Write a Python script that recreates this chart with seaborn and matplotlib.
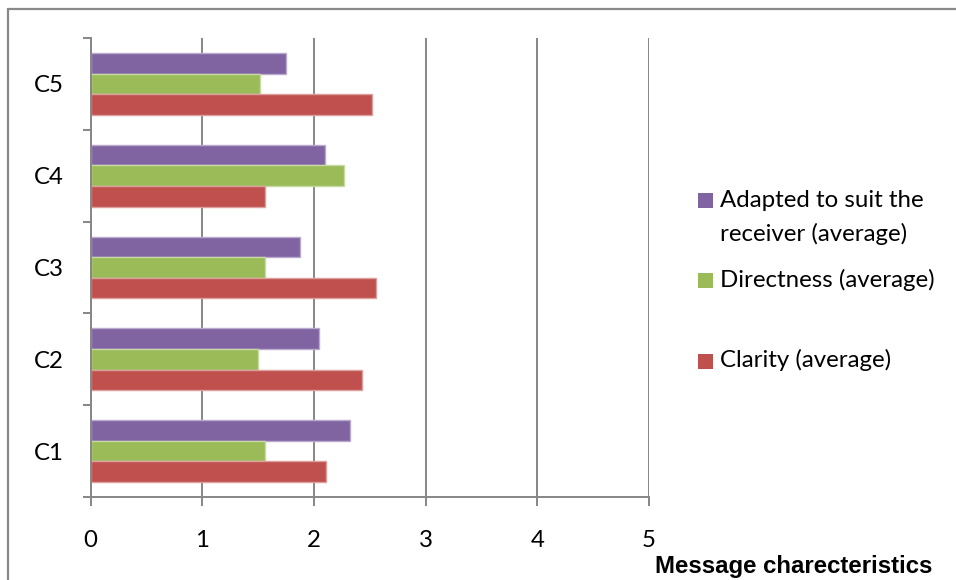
import matplotlib
matplotlib.use("Agg")
import matplotlib.pyplot as plt
import matplotlib.colors as mcolors
from matplotlib.patches import Rectangle
from matplotlib.lines import Line2D
import numpy as np
import pandas as pd
import seaborn as sns

# ---- data ----
categories = ["C5", "C4", "C3", "C2", "C1"]
series_names = [
    "Adapted to suit the\nreceiver (average)",
    "Directness (average)",
    "Clarity (average)",
]
adapted = [1.75, 2.10, 1.88, 2.05, 2.32]
directness = [1.52, 2.27, 1.56, 1.50, 1.56]
clarity = [2.52, 1.56, 2.56, 2.43, 2.11]
x_ticks = [0, 1, 2, 3, 4, 5]
x_title = "Message charecteristics"

colors = ["#8064A2", "#9BBB59", "#C0504D"]

df = pd.DataFrame({
    "category": categories * 3,
    "series": [series_names[0]] * 5 + [series_names[1]] * 5 + [series_names[2]] * 5,
    "value": adapted + directness + clarity,
})

sns.set_theme(style="white")
plt.rcParams["font.family"] = ["Lato", "DejaVu Sans"]

FS = 17.3
W, H = 956, 580
fig = plt.figure(figsize=(W / 100, H / 100), dpi=100)
ax = fig.add_axes([90.5 / W, 1 - 497 / H, (649 - 90.5) / W, (497 - 38) / H])

sns.barplot(
    data=df, y="category", x="value", hue="series",
    order=categories, hue_order=series_names,
    palette=colors, orient="h", width=0.675, dodge=True,
    legend=False, ax=ax, saturation=1,
)

# lighter outline around each bar
for p in ax.patches:
    fc = np.array(mcolors.to_rgb(p.get_facecolor()))
    p.set_edgecolor(tuple(fc + (1 - fc) * 0.45))
    p.set_linewidth(1.0)

grid_c = "#868686"
ax.set_xlim(0, 5)
ax.set_ylim(4.5, -0.5)
ax.set_xticks(x_ticks)
ax.set_xticklabels([str(t) for t in x_ticks])
ax.xaxis.grid(True, color=grid_c, linewidth=1.4)
ax.yaxis.grid(False)
ax.set_axisbelow(True)

for s in ["top", "right"]:
    ax.spines[s].set_visible(False)
for s in ["left", "bottom"]:
    ax.spines[s].set_color(grid_c)
    ax.spines[s].set_linewidth(1.4)

ax.set_xlabel("")
ax.set_ylabel("")

# category ticks sit on the boundaries between groups
ax.set_yticks(np.arange(-0.5, 5.0, 1.0), minor=True)
ax.tick_params(axis="y", which="major", length=0, pad=19, labelsize=FS,
               labelcolor="black")
ax.tick_params(axis="y", which="minor", length=6, width=1.4, color=grid_c,
               direction="out", left=True)
ax.tick_params(axis="x", which="major", length=6.5, width=1.4, color=grid_c,
               direction="out", bottom=True, pad=17, labelsize=FS,
               labelcolor="black")

# legend, drawn as swatches with labels
leg_items = [
    (193, [("Adapted to suit the", 207), ("receiver (average)", 241)]),
    (273, [("Directness (average)", 287)]),
    (354, [("Clarity (average)", 367)]),
]
for (sq_top, lines), col in zip(leg_items, colors):
    fig.patches.append(Rectangle((698 / W, 1 - (sq_top + 15) / H), 15 / W, 15 / H,
                                 transform=fig.transFigure, facecolor=col,
                                 edgecolor="none"))
    for txt, base in lines:
        fig.text(720 / W, 1 - base / H, txt, fontsize=FS, va="baseline",
                 ha="left", color="black")

# axis title in the lower right corner
fig.text(655 / W, 1 - 573 / H, x_title, fontsize=17.3, fontweight="bold",
         family="Liberation Sans", va="baseline", ha="left", color="black")

# outer frame of the chart area
fig.lines.append(Line2D([8 / W, 8 / W], [0, 1 - 9 / H], transform=fig.transFigure,
                        color="#898989", linewidth=1.6))
fig.lines.append(Line2D([8 / W, 1], [1 - 9 / H, 1 - 9 / H], transform=fig.transFigure,
                        color="#898989", linewidth=1.6))

fig.savefig("out.png", dpi=100)
